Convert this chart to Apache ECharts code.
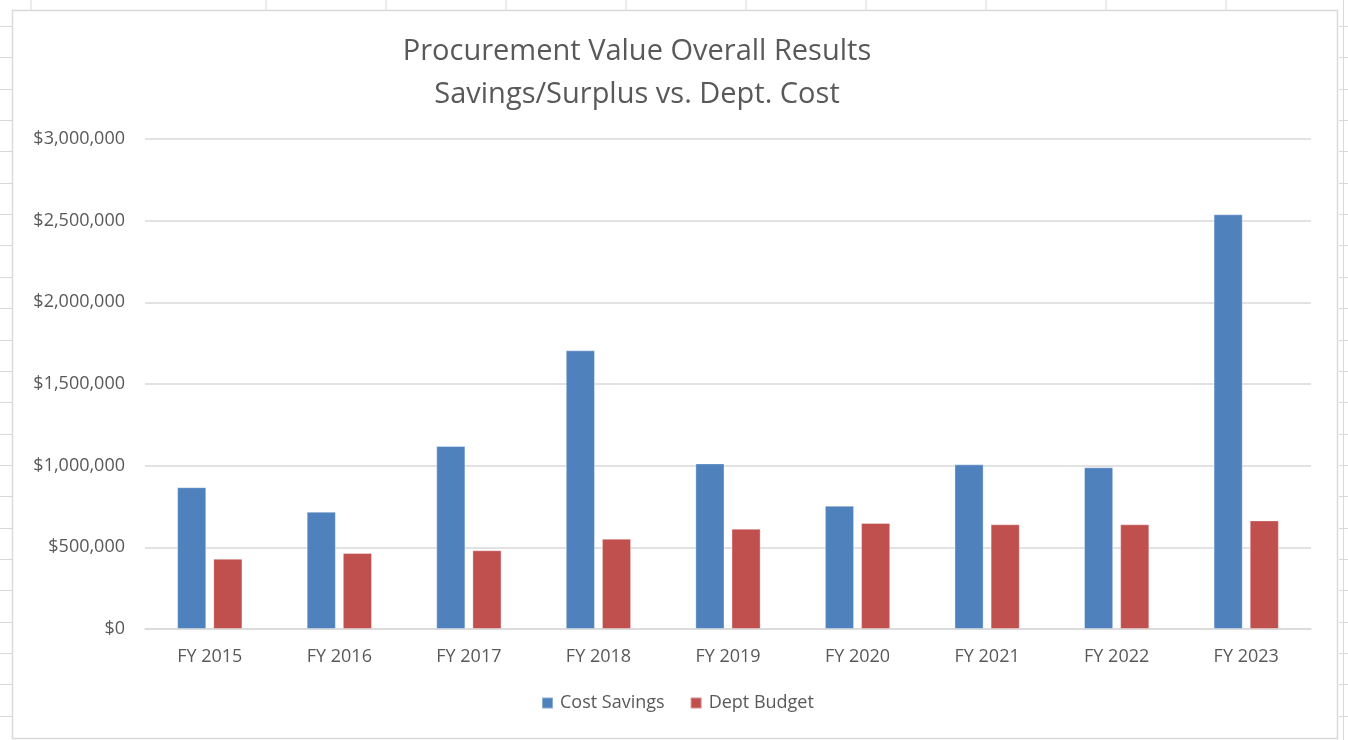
<!DOCTYPE html>
<html>
<head>
<meta charset="utf-8">
<title>Procurement Value Overall Results</title>
<script src="https://cdn.jsdelivr.net/npm/echarts@6/dist/echarts.min.js"></script>
<style>
  html, body { margin: 0; padding: 0; background: #fff; }
  #main { width: 1348px; height: 740px; }
</style>
</head>
<body>
<div id="main"></div>
<script>
'use strict';

var years = ['FY 2015', 'FY 2016', 'FY 2017', 'FY 2018', 'FY 2019', 'FY 2020', 'FY 2021', 'FY 2022', 'FY 2023'];
var costSavings = [868000, 718000, 1120000, 1706000, 1014000, 755000, 1008000, 990000, 2539000];
var deptBudget = [430000, 465000, 482000, 553000, 614000, 649000, 641000, 641000, 665000];
var yTicks = [0, 500000, 1000000, 1500000, 2000000, 2500000, 3000000];

var textColor = '#595959';
var lineColor = '#d9d9d9';
var font = '"Open Sans", "Noto Sans", sans-serif';

// spreadsheet cell lines behind the chart object
var sheet = [];
var colX = [31, 266, 386, 506, 626, 746, 866, 986, 1106, 1226];
colX.forEach(function (x) {
  sheet.push({ type: 'line', shape: { x1: x, y1: 0, x2: x, y2: 10 }, style: { stroke: lineColor, lineWidth: 1 }, z: -1 });
});
for (var y = 26; y < 740; y += 31.35) {
  var yy = Math.round(y) + 0.5;
  sheet.push({ type: 'line', shape: { x1: 0, y1: yy, x2: 12, y2: yy }, style: { stroke: lineColor, lineWidth: 1 }, z: -1 });
  sheet.push({ type: 'line', shape: { x1: 1339, y1: yy, x2: 1348, y2: yy }, style: { stroke: lineColor, lineWidth: 1 }, z: -1 });
}
sheet.push({ type: 'line', shape: { x1: 1343.5, y1: 0, x2: 1343.5, y2: 740 }, style: { stroke: lineColor, lineWidth: 1 }, z: -1 });
sheet.push({ type: 'rect', shape: { x: 12.5, y: 10.5, width: 1325, height: 728 }, style: { fill: '#fff', stroke: lineColor, lineWidth: 1.5 }, z: -1 });

var chart = echarts.init(document.getElementById('main'));
chart.setOption({
  animation: false,
  textStyle: { fontFamily: font },
  graphic: sheet,
  title: {
    text: 'Procurement Value Overall Results\nSavings/Surplus vs. Dept. Cost',
    left: 632,
    textAlign: 'center',
    top: 25,
    textStyle: {
      color: textColor,
      fontSize: 29,
      fontWeight: 'normal',
      lineHeight: 43,
      fontFamily: font
    }
  },
  legend: {
    bottom: 23,
    left: 536,
    icon: 'rect',
    itemWidth: 11,
    itemHeight: 11,
    itemGap: 25,
    textStyle: { color: textColor, fontSize: 18, fontFamily: font, padding: [0, 0, 0, 2] },
    data: ['Cost Savings', 'Dept Budget']
  },
  grid: {
    left: 145,
    right: 37,
    top: 139,
    bottom: 111
  },
  xAxis: {
    type: 'category',
    data: years,
    axisTick: { show: false },
    axisLine: { lineStyle: { color: lineColor, width: 1.5 } },
    axisLabel: { color: textColor, fontSize: 18, margin: 19, fontFamily: font }
  },
  yAxis: {
    type: 'value',
    min: yTicks[0],
    max: yTicks[yTicks.length - 1],
    interval: yTicks[1] - yTicks[0],
    axisLine: { show: false },
    axisTick: { show: false },
    splitLine: { lineStyle: { color: lineColor, width: 1.5 } },
    axisLabel: {
      color: textColor,
      fontSize: 18,
      margin: 20,
      fontFamily: font,
      formatter: function (v) {
        return '$' + v.toLocaleString('en-US');
      }
    }
  },
  series: [
    {
      name: 'Cost Savings',
      type: 'bar',
      data: costSavings,
      barWidth: '22.5%',
      barGap: '24%',
      itemStyle: { color: '#4f81bd', borderColor: 'rgba(255,255,255,0.35)', borderWidth: 1 }
    },
    {
      name: 'Dept Budget',
      type: 'bar',
      data: deptBudget,
      barWidth: '22.5%',
      itemStyle: { color: '#c0504d', borderColor: 'rgba(255,255,255,0.35)', borderWidth: 1 }
    }
  ]
});
</script>
</body>
</html>
